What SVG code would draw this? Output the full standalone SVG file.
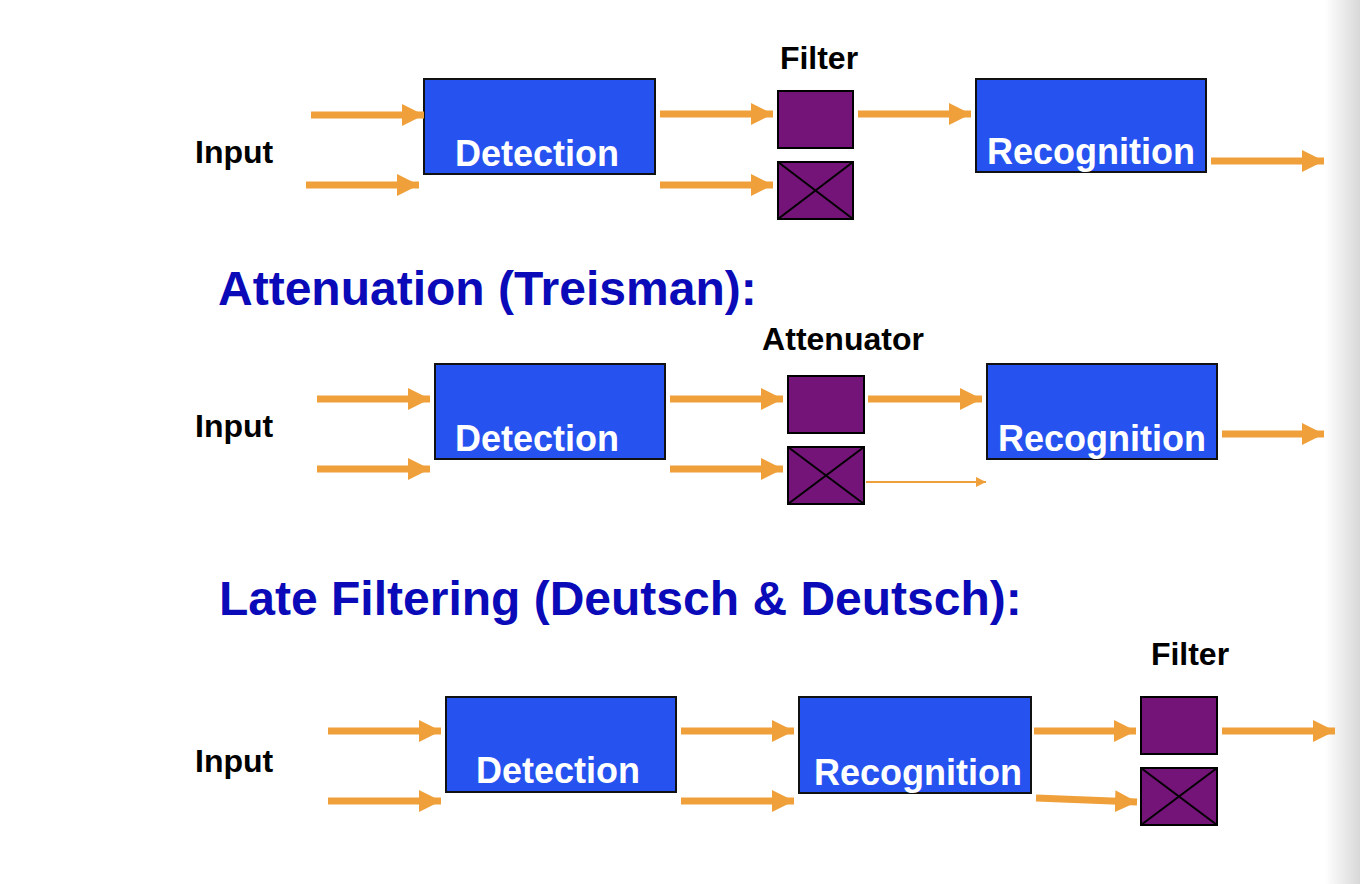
<svg xmlns="http://www.w3.org/2000/svg" width="1360" height="884" viewBox="0 0 1360 884">
<defs>
<linearGradient id="edge" x1="0" x2="1" y1="0" y2="0"><stop offset="0" stop-color="#fff"/><stop offset="1" stop-color="#d8d8d8"/></linearGradient>
<marker id="ah" markerUnits="userSpaceOnUse" markerWidth="24" markerHeight="24" refX="22" refY="11" orient="auto"><path d="M0,0 L22,11 L0,22 Z" fill="#f0a03a"/></marker>
<marker id="ahs" markerUnits="userSpaceOnUse" markerWidth="12" markerHeight="12" refX="10" refY="5" orient="auto"><path d="M0,0 L10,5 L0,10 Z" fill="#f0a03a"/></marker>
</defs>
<style>
.lbl{font-family:"Liberation Sans",Arial,sans-serif;font-weight:bold;fill:#000;font-size:32px}
.title{font-family:"Liberation Sans",Arial,sans-serif;font-weight:bold;fill:#0a0ab8;font-size:48px}
.box{fill:#2652f0;stroke:#111;stroke-width:2}
.bt{font-family:"Liberation Sans",Arial,sans-serif;font-weight:bold;fill:#fff;font-size:36px;text-anchor:middle}
.f{fill:#741478;stroke:#000;stroke-width:2}
.x{stroke:#000;stroke-width:2}
.a{stroke:#f0a03a;stroke-width:7;marker-end:url(#ah)}
.t{stroke:#f0a03a;stroke-width:2;marker-end:url(#ahs)}
</style>
<rect width="1360" height="884" fill="#fff"/>
<rect x="1325" y="0" width="35" height="884" fill="url(#edge)"/>
<text class="title" x="218" y="305">Attenuation (Treisman):</text>
<text class="title" x="219" y="615">Late Filtering (Deutsch &amp; Deutsch):</text>
<g id="input1"><text class="lbl" x="195" y="163">Input</text></g>
<g id="detection1"><rect class="box" x="424" y="79" width="231" height="95"/><text class="bt" x="537" y="166">Detection</text></g>
<g id="filter1"><text class="lbl" x="819" y="69" text-anchor="middle">Filter</text><rect class="f" x="778" y="91" width="75" height="57"/><rect class="f" x="778" y="162" width="75" height="57"/><path class="x" d="M778,162 L853,219 M853,162 L778,219"/></g>
<g id="recognition1"><rect class="box" x="976" y="79" width="230" height="93"/><text class="bt" x="1091" y="164">Recognition</text></g>
<g id="input2"><text class="lbl" x="195" y="437">Input</text></g>
<g id="detection2"><rect class="box" x="435" y="364" width="230" height="95"/><text class="bt" x="537" y="451">Detection</text></g>
<g id="attenuator"><text class="lbl" x="843" y="350" text-anchor="middle">Attenuator</text><rect class="f" x="788" y="376" width="76" height="57"/><rect class="f" x="788" y="447" width="76" height="57"/><path class="x" d="M788,447 L864,504 M864,447 L788,504"/></g>
<g id="recognition2"><rect class="box" x="987" y="364" width="230" height="95"/><text class="bt" x="1102" y="451">Recognition</text></g>
<g id="input3"><text class="lbl" x="195" y="772">Input</text></g>
<g id="detection3"><rect class="box" x="446" y="697" width="230" height="95"/><text class="bt" x="558" y="783">Detection</text></g>
<g id="recognition3"><rect class="box" x="799" y="697" width="232" height="96"/><text class="bt" x="918" y="785">Recognition</text></g>
<g id="filter3"><text class="lbl" x="1190" y="665" text-anchor="middle">Filter</text><rect class="f" x="1141" y="697" width="76" height="57"/><rect class="f" x="1141" y="768" width="76" height="57"/><path class="x" d="M1141,768 L1217,825 M1217,768 L1141,825"/></g>
<g id="connectors">
<line class="a" x1="311" y1="115" x2="424" y2="115"/>
<line class="a" x1="306" y1="185" x2="419" y2="185"/>
<line class="a" x1="660" y1="114" x2="773" y2="114"/>
<line class="a" x1="660" y1="185" x2="773" y2="185"/>
<line class="a" x1="858" y1="114" x2="971" y2="114"/>
<line class="a" x1="1211" y1="161" x2="1324" y2="161"/>
<line class="a" x1="317" y1="399" x2="430" y2="399"/>
<line class="a" x1="317" y1="469" x2="430" y2="469"/>
<line class="a" x1="670" y1="399" x2="783" y2="399"/>
<line class="a" x1="670" y1="469" x2="783" y2="469"/>
<line class="a" x1="868" y1="399" x2="982" y2="399"/>
<line class="t" x1="866" y1="482" x2="986" y2="482"/>
<line class="a" x1="1222" y1="434" x2="1324" y2="434"/>
<line class="a" x1="328" y1="731" x2="441" y2="731"/>
<line class="a" x1="328" y1="801" x2="441" y2="801"/>
<line class="a" x1="681" y1="731" x2="794" y2="731"/>
<line class="a" x1="681" y1="801" x2="794" y2="801"/>
<line class="a" x1="1034" y1="731" x2="1136" y2="731"/>
<line class="a" x1="1036" y1="798" x2="1137" y2="802"/>
<line class="a" x1="1222" y1="731" x2="1335" y2="731"/>
</g>
</svg>
